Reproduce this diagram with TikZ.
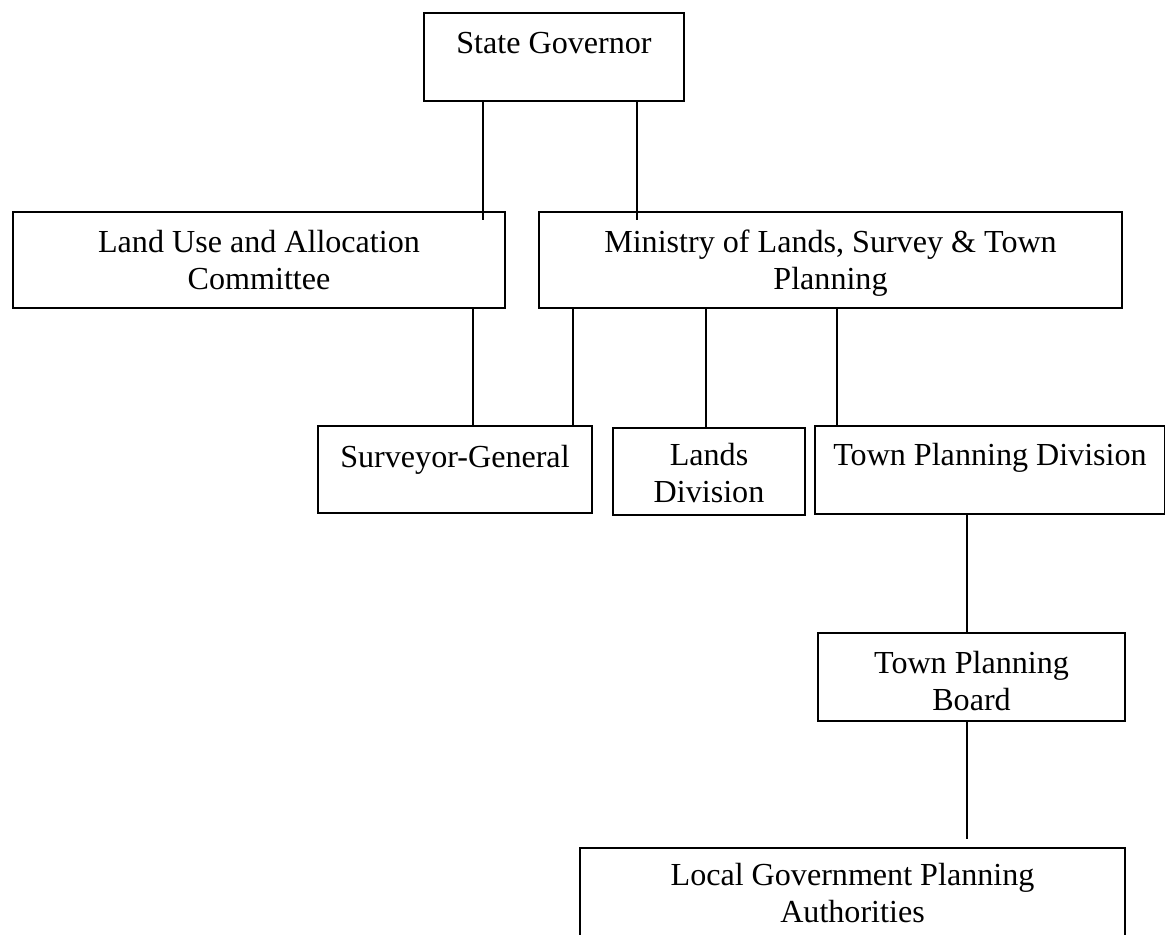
\documentclass[tikz,border=0pt]{standalone}
\usepackage{fontspec}
\setmainfont{Liberation Serif}
\usetikzlibrary{calc}
\newdimen\px \px=0.5pt
\newcommand\bx[4]{\parbox[t][#2\px][t]{#1\px}{\centering\rule{0pt}{#3\px}#4}}
\begin{document}
\begin{tikzpicture}[x=0.5pt,y=-0.5pt,
  orgbox/.style={draw, line width=1pt, inner sep=0pt, outer sep=0pt, anchor=north west,
    font=\fontsize{16.05}{18.5}\selectfont},
  link/.style={line width=0.8pt}]
\useasboundingbox (0,0) rectangle (1165,934);
% boxes
\node[orgbox] (sg)  at (424,13)  {\bx{260}{88}{40}{State Governor}};
\node[orgbox] (lu)  at (13,212)  {\bx{492}{96}{40}{Land Use and Allocation\\Committee}};
\node[orgbox] (min) at (539,212) {\bx{583}{96}{40}{Ministry of Lands, Survey \& Town\\Planning}};
\node[orgbox] (sur) at (318,426) {\bx{274}{87}{41}{Surveyor-General}};
\node[orgbox] (lan) at (613,428) {\bx{192}{87}{37}{Lands\\Division}};
\node[orgbox] (tpd) at (815,426) {\bx{350}{88}{39}{Town Planning Division}};
\node[orgbox] (tpb) at (818,633) {\bx{307}{88}{40}{Town Planning\\Board}};
\node[orgbox] (lg)  at (580,848) {\bx{545}{92}{37}{Local Government Planning\\Authorities}};
% x positions of connectors
\coordinate (xa) at (483,0);
\coordinate (xb) at (637,0);
\coordinate (xc) at (473,0);
\coordinate (xd) at (573,0);
\coordinate (xe) at (706,0);
\coordinate (xf) at (837,0);
\coordinate (xg) at (967,0);
% connectors
\draw[link] (sg.south -| xa) -- ($(lu.north -| xa)+(0,8)$);
\draw[link] (sg.south -| xb) -- ($(min.north -| xb)+(0,8)$);
\draw[link] (lu.south -| xc) -- (sur.north -| xc);
\draw[link] (min.south -| xd) -- (sur.north -| xd);
\draw[link] (min.south -| xe) -- (lan.north -| xe);
\draw[link] (min.south -| xf) -- (tpd.north -| xf);
\draw[link] (tpd.south -| xg) -- (tpb.north -| xg);
\draw[link] (tpb.south -| xg) -- ($(lg.north -| xg)+(0,-9)$);
\end{tikzpicture}
\end{document}
